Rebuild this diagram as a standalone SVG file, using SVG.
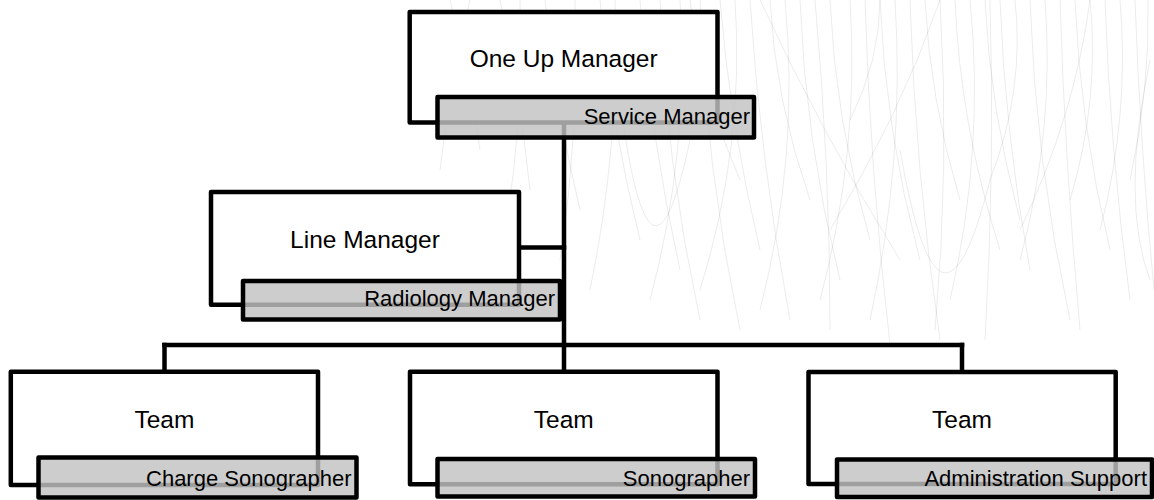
<svg xmlns="http://www.w3.org/2000/svg" width="1154" height="500" viewBox="0 0 1154 500">
<style>
.bg{fill:#fff}
.hair{fill:none;stroke:#000;stroke-opacity:.09;stroke-width:.9}
.c{fill:none;stroke:#000;stroke-width:4.5;stroke-linecap:square}
.box{fill:#fff;stroke:#000;stroke-width:4.5;stroke-linejoin:round}
.tag{fill:#c2c2c2;fill-opacity:.82;stroke:#000;stroke-width:4.5;stroke-linejoin:round}
.t{font-family:"Liberation Sans",Arial,sans-serif;font-size:24.5px;text-anchor:middle;fill:#000}
.s{font-family:"Liberation Sans",Arial,sans-serif;font-size:22px;text-anchor:end;fill:#000}
</style>
<rect class="bg" x="0" y="0" width="1154" height="500"/>
<g id="background-hair">
<path class="hair" d="M450 0 Q470 75 480 150"/>
<path class="hair" d="M470 0 Q450 85 440 170"/>
<path class="hair" d="M500 0 Q520 95 530 190"/>
<path class="hair" d="M520 0 Q525 115 505 230"/>
<path class="hair" d="M545 0 Q555 105 580 210"/>
<path class="hair" d="M575 0 Q580 130 560 260"/>
<path class="hair" d="M600 0 Q610 120 640 240"/>
<path class="hair" d="M615 0 Q620 145 590 290"/>
<path class="hair" d="M640 0 Q650 135 680 270"/>
<path class="hair" d="M660 0 Q665 160 700 320"/>
<path class="hair" d="M680 0 Q690 150 650 300"/>
<path class="hair" d="M700 0 Q705 165 740 330"/>
<path class="hair" d="M720 0 Q730 125 760 250"/>
<path class="hair" d="M735 0 Q745 145 700 290"/>
<path class="hair" d="M750 0 Q760 160 790 320"/>
<path class="hair" d="M770 0 Q775 100 810 200"/>
<path class="hair" d="M785 0 Q800 155 760 310"/>
<path class="hair" d="M800 0 Q805 140 840 280"/>
<path class="hair" d="M815 0 Q830 165 830 330"/>
<path class="hair" d="M830 0 Q835 120 870 240"/>
<path class="hair" d="M850 0 Q860 150 820 300"/>
<path class="hair" d="M865 0 Q870 172 890 345"/>
<path class="hair" d="M880 0 Q885 130 920 260"/>
<path class="hair" d="M895 0 Q905 160 870 320"/>
<path class="hair" d="M910 0 Q915 170 940 340"/>
<path class="hair" d="M925 0 Q930 100 960 200"/>
<path class="hair" d="M940 0 Q950 165 935 330"/>
<path class="hair" d="M955 0 Q960 125 1000 250"/>
<path class="hair" d="M970 0 Q985 150 950 300"/>
<path class="hair" d="M985 0 Q990 110 1020 220"/>
<path class="hair" d="M1000 0 Q1005 135 1030 270"/>
<path class="hair" d="M1015 0 Q1025 90 990 180"/>
<path class="hair" d="M1030 0 Q1035 160 1070 320"/>
<path class="hair" d="M1045 0 Q1055 130 1020 260"/>
<path class="hair" d="M1060 0 Q1065 165 1080 330"/>
<path class="hair" d="M1075 0 Q1080 125 1110 250"/>
<path class="hair" d="M1090 0 Q1100 100 1070 200"/>
<path class="hair" d="M1105 0 Q1110 150 1130 300"/>
<path class="hair" d="M1120 0 Q1130 115 1100 230"/>
<path class="hair" d="M1135 0 Q1140 145 1154 290"/>
<path class="hair" d="M1148 0 Q1150 90 1130 180"/>
<path class="hair" d="M760 0 Q820 130 900 260"/>
<path class="hair" d="M940 0 Q900 115 830 230"/>
<path class="hair" d="M1090 0 Q1075 115 1020 230"/>
<path class="hair" d="M880 0 Q880 60 850 120"/>
<path class="hair" d="M690 0 Q700 90 740 180"/>
<path class="hair" d="M620 100 Q650 330 690 140"/>
<path class="hair" d="M900 150 Q940 380 990 180"/>
<path class="hair" d="M990 0 Q995 170 985 340"/>
<path class="hair" d="M1150 60 Q1120 200 1150 280"/>
</g>
<g id="connectors">
<path class="c" d="M564 122.5 V345"/>
<path class="c" d="M519 247.5 H564"/>
<path class="c" d="M164.5 345 H962"/>
<path class="c" d="M164.5 345 V371.7"/>
<path class="c" d="M564 345 V371.7"/>
<path class="c" d="M962 345 V372"/>
</g>
<g id="node-one-up-manager">
<rect class="box" x="409.7" y="12" width="307.8" height="110.5"/>
<rect class="tag" x="437.5" y="97" width="316.5" height="40.5"/>
<text class="t" x="563.6" y="67">One Up Manager</text>
<text class="s" x="750" y="123.5">Service Manager</text>
</g>
<g id="node-line-manager">
<rect class="box" x="211" y="192" width="308" height="112.7"/>
<rect class="tag" x="243" y="281" width="317" height="38.5"/>
<text class="t" x="365" y="248">Line Manager</text>
<text class="s" x="555" y="306">Radiology Manager</text>
</g>
<g id="node-team-charge-sonographer">
<rect class="box" x="10.8" y="371.7" width="307.2" height="113.3"/>
<rect class="tag" x="38.5" y="457.5" width="318" height="40"/>
<text class="t" x="164.4" y="428">Team</text>
<text class="s" x="351.5" y="486">Charge Sonographer</text>
</g>
<g id="node-team-sonographer">
<rect class="box" x="410" y="371.7" width="307.5" height="112.5"/>
<rect class="tag" x="437.5" y="459" width="317.5" height="37.5"/>
<text class="t" x="563.75" y="428">Team</text>
<text class="s" x="750" y="486">Sonographer</text>
</g>
<g id="node-team-administration-support">
<rect class="box" x="808.5" y="372" width="307.2" height="112"/>
<rect class="tag" x="837" y="459.5" width="315" height="37.5"/>
<text class="t" x="962" y="428">Team</text>
<text class="s" x="1147" y="486">Administration Support</text>
</g>
</svg>
